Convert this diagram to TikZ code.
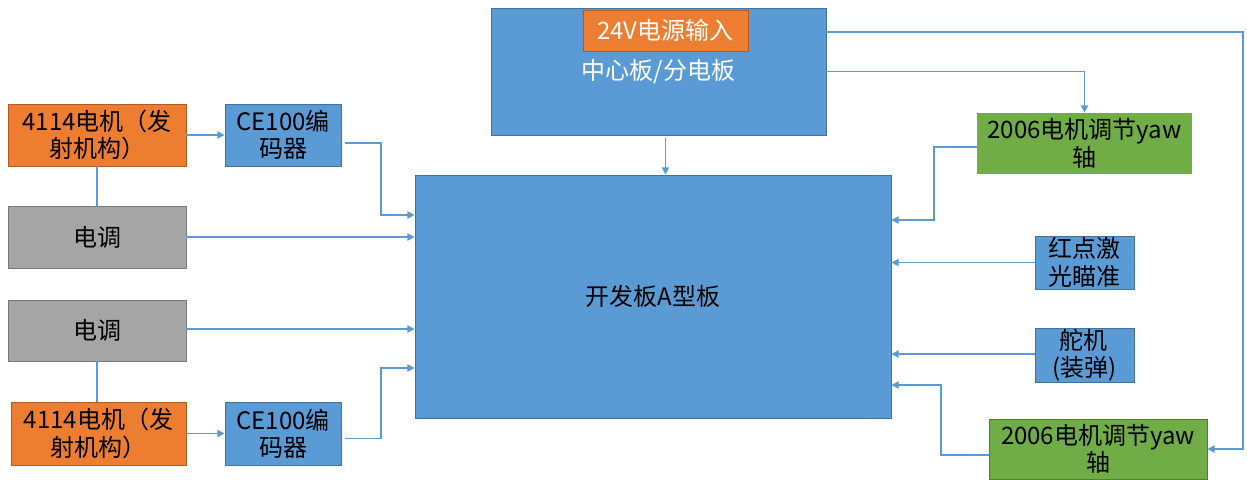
\documentclass[tikz,border=0pt]{standalone}
\usepackage{fontspec}
\setmainfont{Noto Sans CJK SC}
\usetikzlibrary{arrows.meta,calc}
\definecolor{obl}{HTML}{5B9BD5}
\definecolor{oblb}{HTML}{41719C}
\definecolor{oor}{HTML}{ED7D31}
\definecolor{oorb}{HTML}{AE5A21}
\definecolor{ogr}{HTML}{A5A5A5}
\definecolor{ogrb}{HTML}{787878}
\definecolor{ogn}{HTML}{70AD47}
\definecolor{ognb}{HTML}{507E32}
\begin{document}
\begin{tikzpicture}[x=0.75pt,y=-0.75pt,
  box/.style={draw,line width=0.6pt,inner sep=0pt,align=center,
    font=\fontsize{18}{20.5}\selectfont,text=black},
  bluebox/.style={box,fill=obl,draw=oblb},
  orbox/.style={box,fill=oor,draw=oorb},
  grbox/.style={box,fill=ogr,draw=ogrb},
  gnbox/.style={box,fill=ogn,draw=ognb},
  link/.style={draw=obl,line width=1.2pt},
  arr/.style={link,-{Triangle[length=5.5pt,width=5.5pt]}}]
\useasboundingbox (0,0) rectangle (1247,479);
% left column
\node[orbox,minimum width=133.5pt,minimum height=46.5pt] (m1) at (97,135) {4114电机（发\\射机构）};
\node[bluebox,minimum width=87pt,minimum height=46.5pt] (e1) at (283,135) {CE100编\\码器};
\node[grbox,minimum width=133.5pt,minimum height=46.5pt] (esc1) at (97,237) {电调};
\node[grbox,minimum width=133.5pt,minimum height=45.75pt] (esc2) at (97,330.5) {电调};
\node[orbox,minimum width=131.25pt,minimum height=47.25pt] (m2) at (98.5,433.5) {4114电机（发\\射机构）};
\node[bluebox,minimum width=87pt,minimum height=47.25pt] (e2) at (283,433.5) {CE100编\\码器};
% main and center
\node[bluebox,minimum width=357pt,minimum height=182.25pt] (main) at (653,296.5) {开发板A型板};
\node[bluebox,minimum width=251.25pt,minimum height=95.25pt,text=white] (center) at (658.5,71.5) {中心板/分电板};
\node[orbox,minimum width=123.75pt,minimum height=30.75pt,text=white] (v24) at (665.5,30.5) {24V电源输入};
% right column
\node[gnbox,minimum width=161.25pt,minimum height=45.75pt,draw=none] (yaw1) at (1084.5,143.5) {2006电机调节yaw\\轴};
\node[bluebox,minimum width=74.25pt,minimum height=39.75pt] (laser) at (1084.5,262.5) {红点激\\光瞄准};
\node[bluebox,minimum width=74.25pt,minimum height=40.5pt,align=left] (servo) at (1084.5,355) {\hspace{5pt}舵机\\(装弹)};
\node[gnbox,minimum width=163.5pt,minimum height=45pt] (yaw2) at (1098,449) {2006电机调节yaw\\轴};
% junctions
\coordinate (j1) at (381,215);
\coordinate (j2) at (381,368);
\coordinate (j3) at (1243,32);
\coordinate (j5) at (934,220);
\coordinate (j6) at (941,385);
% connectors left
\draw[arr] (m1) -- (e1);
\draw[link] (m1.south) -- (esc1.north);
\draw[arr] ([shift={(4,8)}]e1.east) -| (j1) -- (j1 -| main.west);
\draw[arr] (esc1.east) -- (esc1.east -| main.west);
\draw[arr] ([yshift=1.1pt]esc2.east) -- ([yshift=1.1pt]esc2.east -| main.west);
\draw[link] (esc2.south) -- (esc2.south |- m2.north);
\draw[arr] (m2) -- (e2);
\draw[arr] ([shift={(4,5)}]e2.east) -| (j2) -- (j2 -| main.west);
% center connectors
\draw[arr] ([yshift=-2pt]center.south -| v24) -- (main.north -| v24);
\draw[arr] (center.east |- j3) -- (j3) |- (yaw2.east);
\draw[arr] (center.east) -| (yaw1.north);
% right connectors
\draw[arr] ([yshift=-2.5pt]yaw1.west) -| (j5) -- (j5 -| main.east);
\draw[arr] (laser.west) -- (laser.west -| main.east);
\draw[arr] ([yshift=0.75pt]servo.west) -- ([yshift=0.75pt]servo.west -| main.east);
\draw[arr] ([yshift=-4.5pt]yaw2.west) -| (j6) -- (j6 -| main.east);
\end{tikzpicture}
\end{document}
